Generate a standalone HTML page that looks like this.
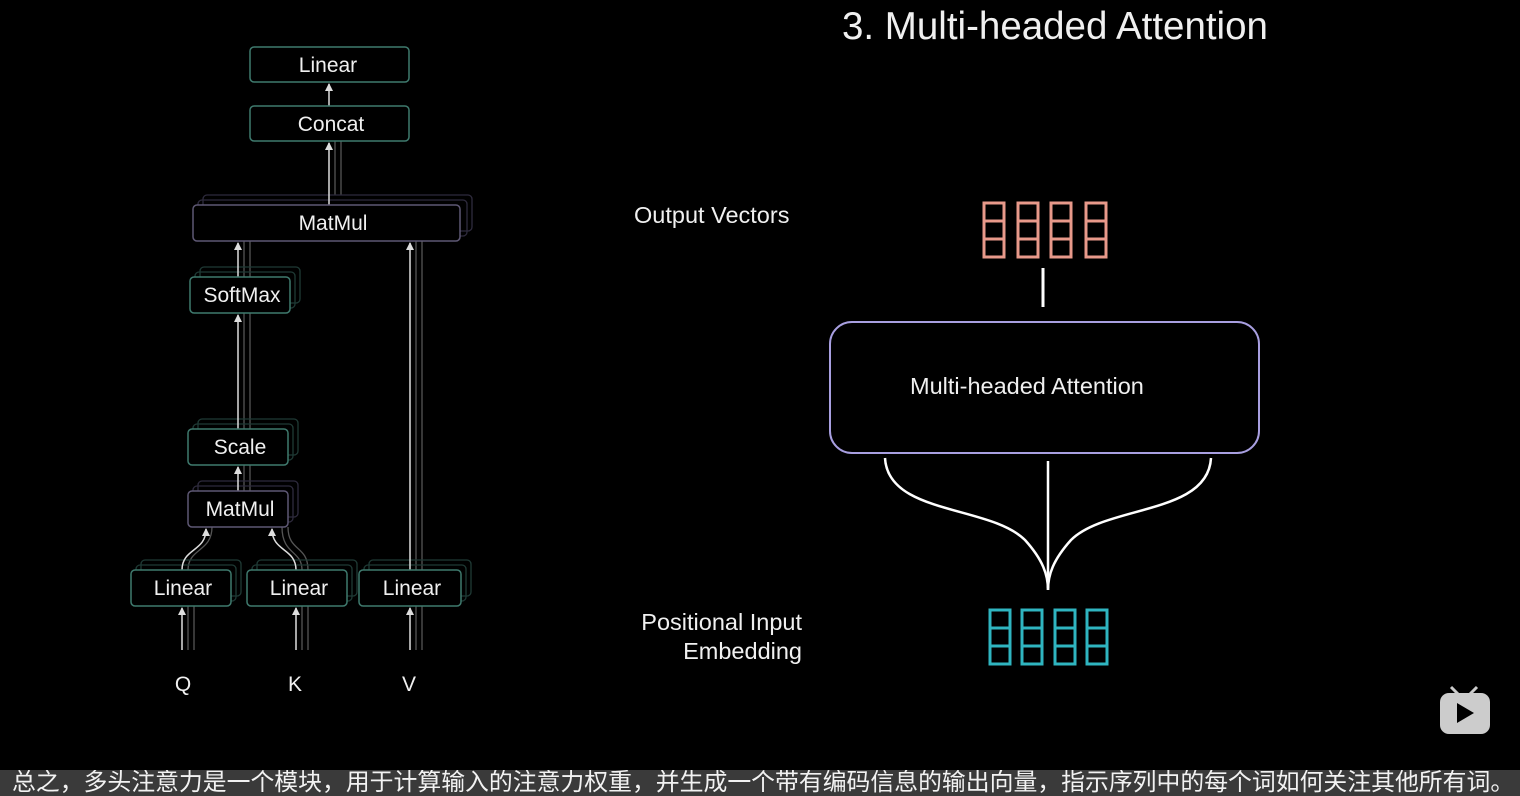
<!DOCTYPE html>
<html><head><meta charset="utf-8"><style>
html,body{margin:0;padding:0;background:#000;width:1520px;height:796px;overflow:hidden}
svg{position:absolute;left:0;top:0}
text{font-family:"Liberation Sans","DejaVu Sans",sans-serif;fill:#f0f0f0}
.sub{position:absolute;left:0;top:770px;width:1520px;height:26px;background:#3a3a3a;color:#f2f2f2;font-family:"Liberation Sans","Noto Sans CJK SC",sans-serif;font-size:23.85px;line-height:26px;white-space:nowrap;padding-left:12px;box-sizing:border-box;overflow:hidden}
</style></head><body>
<svg width="1520" height="796" viewBox="0 0 1520 796">
<defs>
<marker id="ah" markerWidth="8" markerHeight="8" refX="7" refY="4" orient="auto" markerUnits="userSpaceOnUse"><path d="M0,0 L8,4 L0,8 Z" fill="#ddd"/></marker>
</defs>
<g id="left" fill="none">
<g stroke="#555" stroke-width="1.3">
<line x1="188" y1="650" x2="188" y2="606"/><line x1="194" y1="650" x2="194" y2="606"/>
<line x1="302" y1="650" x2="302" y2="606"/><line x1="308" y1="650" x2="308" y2="606"/>
<line x1="416" y1="650" x2="416" y2="606"/><line x1="422" y1="650" x2="422" y2="606"/>
<line x1="416" y1="570" x2="416" y2="241"/><line x1="422" y1="570" x2="422" y2="241"/>
<line x1="244" y1="491" x2="244" y2="241"/><line x1="250" y1="491" x2="250" y2="241"/>
<line x1="335" y1="195" x2="335" y2="141"/><line x1="341" y1="195" x2="341" y2="141"/>
<path d="M302,570 C302,550 282,555 282,527"/><path d="M308,570 C308,545 288,552 288,527"/>
<path d="M188,570 C188,548 212,552 212,527"/>
</g>
<g stroke="#1f3a35" stroke-width="1.3">
<rect x="141" y="560" width="100" height="36" rx="4"/><rect x="136" y="565" width="100" height="36" rx="4"/>
<rect x="257" y="560" width="100" height="36" rx="4"/><rect x="252" y="565" width="100" height="36" rx="4"/>
<rect x="369" y="560" width="102" height="36" rx="4"/><rect x="364" y="565" width="102" height="36" rx="4"/>
<rect x="198" y="419" width="100" height="36" rx="4"/><rect x="193" y="424" width="100" height="36" rx="4"/>
<rect x="200" y="267" width="100" height="36" rx="4"/><rect x="195" y="272" width="100" height="36" rx="4"/>
</g>
<g stroke="#2e2b3d" stroke-width="1.3">
<rect x="198" y="481" width="100" height="36" rx="4"/><rect x="193" y="486" width="100" height="36" rx="4"/>
<rect x="203" y="195" width="269" height="36" rx="4"/><rect x="198" y="200" width="269" height="36" rx="4"/>
</g>
<g stroke="#ddd" stroke-width="1.5">
<line x1="182" y1="650" x2="182" y2="608" marker-end="url(#ah)"/>
<line x1="296" y1="650" x2="296" y2="608" marker-end="url(#ah)"/>
<line x1="410" y1="650" x2="410" y2="608" marker-end="url(#ah)"/>
<path d="M182,570 C182,548 206,552 206,529" marker-end="url(#ah)"/>
<path d="M296,570 C296,548 272,552 272,529" marker-end="url(#ah)"/>
<line x1="238" y1="491" x2="238" y2="467" marker-end="url(#ah)"/>
<line x1="238" y1="429" x2="238" y2="315" marker-end="url(#ah)"/>
<line x1="238" y1="277" x2="238" y2="243" marker-end="url(#ah)"/>
<line x1="410" y1="570" x2="410" y2="243" marker-end="url(#ah)"/>
<line x1="329" y1="205" x2="329" y2="143" marker-end="url(#ah)"/>
<line x1="329" y1="106" x2="329" y2="84" marker-end="url(#ah)"/>
</g>
<g stroke="#3f7a6e" stroke-width="1.5" fill="#000">
<rect x="250" y="47" width="159" height="35" rx="4"/>
<rect x="250" y="106" width="159" height="35" rx="4"/>
<rect x="190" y="277" width="100" height="36" rx="4"/>
<rect x="188" y="429" width="100" height="36" rx="4"/>
<rect x="131" y="570" width="100" height="36" rx="4"/>
<rect x="247" y="570" width="100" height="36" rx="4"/>
<rect x="359" y="570" width="102" height="36" rx="4"/>
</g>
<g stroke="#5e5874" stroke-width="1.5" fill="#000">
<rect x="193" y="205" width="267" height="36" rx="4"/>
<rect x="188" y="491" width="100" height="36" rx="4"/>
</g>
</g>
<g font-size="21" text-anchor="middle">
<text x="328" y="72">Linear</text>
<text x="331" y="131">Concat</text>
<text x="333" y="230">MatMul</text>
<text x="242" y="302">SoftMax</text>
<text x="240" y="454">Scale</text>
<text x="240" y="516">MatMul</text>
<text x="183" y="595">Linear</text>
<text x="299" y="595">Linear</text>
<text x="412" y="595">Linear</text>
<text x="183" y="691">Q</text>
<text x="295" y="691">K</text>
<text x="409" y="691">V</text>
</g>
<text x="842" y="39" font-size="38.5">3. Multi-headed Attention</text>
<text x="634" y="223" font-size="23.5">Output Vectors</text>
<g stroke="#e8998a" stroke-width="3" fill="none">
<rect x="984" y="203" width="20" height="54"/><line x1="984" y1="221" x2="1004" y2="221"/><line x1="984" y1="239" x2="1004" y2="239"/>
<rect x="1018" y="203" width="20" height="54"/><line x1="1018" y1="221" x2="1038" y2="221"/><line x1="1018" y1="239" x2="1038" y2="239"/>
<rect x="1051" y="203" width="20" height="54"/><line x1="1051" y1="221" x2="1071" y2="221"/><line x1="1051" y1="239" x2="1071" y2="239"/>
<rect x="1086" y="203" width="20" height="54"/><line x1="1086" y1="221" x2="1106" y2="221"/><line x1="1086" y1="239" x2="1106" y2="239"/>
</g>
<line x1="1043" y1="268" x2="1043" y2="307" stroke="#fff" stroke-width="3"/>
<rect x="830" y="322" width="429" height="131" rx="22" fill="none" stroke="#a89fe0" stroke-width="2"/>
<text x="910" y="394" font-size="23.5">Multi-headed Attention</text>
<g stroke="#fff" stroke-width="2.5" fill="none">
<line x1="1048" y1="461" x2="1048" y2="588"/>
<path d="M885,458 C888,515 990,505 1025,540 C1043,560 1048,575 1048,590"/>
<path d="M1211,458 C1208,515 1106,505 1071,540 C1053,560 1048,575 1048,590"/>
</g>
<text x="802" y="630" font-size="23.5" text-anchor="end">Positional Input</text>
<text x="802" y="659" font-size="23.5" text-anchor="end">Embedding</text>
<g stroke="#2fb5c0" stroke-width="3" fill="none">
<rect x="990" y="610" width="20" height="54"/><line x1="990" y1="628" x2="1010" y2="628"/><line x1="990" y1="646" x2="1010" y2="646"/>
<rect x="1022" y="610" width="20" height="54"/><line x1="1022" y1="628" x2="1042" y2="628"/><line x1="1022" y1="646" x2="1042" y2="646"/>
<rect x="1055" y="610" width="20" height="54"/><line x1="1055" y1="628" x2="1075" y2="628"/><line x1="1055" y1="646" x2="1075" y2="646"/>
<rect x="1087" y="610" width="20" height="54"/><line x1="1087" y1="628" x2="1107" y2="628"/><line x1="1087" y1="646" x2="1107" y2="646"/>
</g>
<g fill="#cccccc">
<line x1="1451" y1="687" x2="1459" y2="695" stroke="#ccc" stroke-width="3"/>
<line x1="1477" y1="687" x2="1469" y2="695" stroke="#ccc" stroke-width="3"/>
<rect x="1440" y="693" width="50" height="41" rx="9"/>
<path d="M1457,703 L1474,713 L1457,723 Z" fill="#000"/>
</g>
</svg>
<div class="sub">总之，多头注意力是一个模块，用于计算输入的注意力权重，并生成一个带有编码信息的输出向量，指示序列中的每个词如何关注其他所有词。</div>
</body></html>
